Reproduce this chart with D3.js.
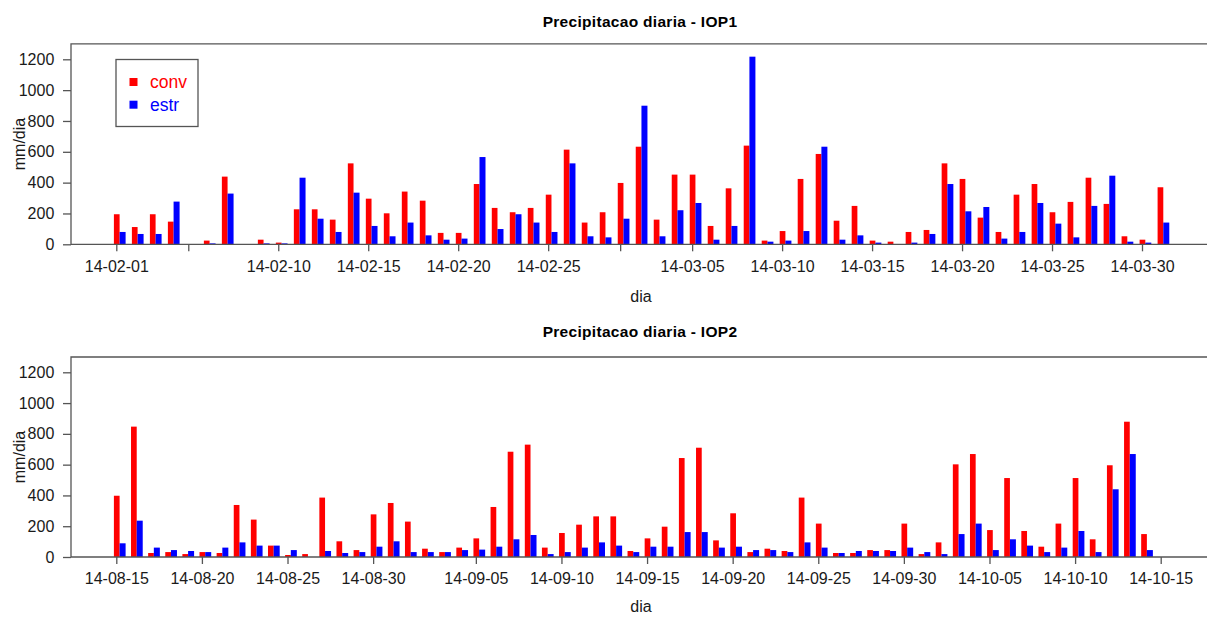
<!DOCTYPE html>
<html>
<head>
<meta charset="utf-8">
<script src="https://cdn.jsdelivr.net/npm/d3@7"></script>
<style>
  html, body { margin: 0; padding: 0; background: #fff; }
  svg { display: block; font-family: "Liberation Sans", Arial, Helvetica, sans-serif; }
</style>
</head>
<body>
<svg id="chart" width="1207" height="617"></svg>
<script>
// ---------- DATA ----------
const seriesNames = ["conv", "estr"];
const seriesColors = ["#ff0000", "#0000ff"];

const dias1 = ["02-01","02-02","02-03","02-04","02-05","02-06","02-07","02-08","02-09","02-10",
  "02-11","02-12","02-13","02-14","02-15","02-16","02-17","02-18","02-19","02-20",
  "02-21","02-22","02-23","02-24","02-25","02-26","02-27","02-28",
  "03-01","03-02","03-03","03-04","03-05","03-06","03-07","03-08","03-09","03-10",
  "03-11","03-12","03-13","03-14","03-15","03-16","03-17","03-18","03-19","03-20",
  "03-21","03-22","03-23","03-24","03-25","03-26","03-27","03-28","03-29","03-30","03-31"];
const conv1 = [195,112,195,147,0,24,439,0,30,11,
  227,227,160,525,296,201,342,283,74,74,
  391,236,208,236,322,614,141,208,
  398,633,160,452,452,119,363,640,24,86,
  424,586,153,249,24,17,80,93,525,424,
  173,80,322,391,208,275,432,262,52,30,370];
const estr1 = [80,67,67,277,0,6,329,0,6,6,
  432,166,80,335,119,52,141,58,30,37,
  566,99,195,141,80,525,52,45,
  166,899,52,221,268,30,119,1217,17,24,
  86,633,30,58,11,0,11,67,391,214,
  242,37,80,268,134,45,249,445,17,11,141];

const dias2 = ["08-15","08-16","08-17","08-18","08-19","08-20","08-21","08-22","08-23","08-24",
  "08-25","08-26","08-27","08-28","08-29","08-30","08-31",
  "09-01","09-02","09-03","09-04","09-05","09-06","09-07","09-08","09-09","09-10",
  "09-11","09-12","09-13","09-14","09-15","09-16","09-17","09-18","09-19","09-20",
  "09-21","09-22","09-23","09-24","09-25","09-26","09-27","09-28","09-29","09-30",
  "10-01","10-02","10-03","10-04","10-05","10-06","10-07","10-08","10-09","10-10",
  "10-11","10-12","10-13","10-14"];
const conv2 = [398,847,26,32,19,32,26,338,243,74,
  13,19,386,102,45,277,351,
  230,54,32,61,121,325,684,730,61,156,
  210,264,264,39,121,197,643,710,108,284,
  32,54,39,386,217,26,26,45,45,217,
  19,95,602,669,175,513,169,67,217,513,
  115,596,879,149];
const estr2 = [89,236,61,45,39,32,61,95,74,74,
  45,0,39,26,32,67,102,
  32,32,32,45,48,67,115,143,19,32,
  61,95,74,32,67,67,162,162,61,67,
  45,45,32,95,61,26,39,39,39,61,
  32,19,149,217,45,115,74,32,61,169,
  32,440,669,45];

const ticks1 = ["02-01","02-05","02-10","02-15","02-20","02-25","03-01","03-05","03-10","03-15","03-20","03-25","03-30"];
const labels1 = ["14-02-01","","14-02-10","14-02-15","14-02-20","14-02-25","","14-03-05","14-03-10","14-03-15","14-03-20","14-03-25","14-03-30"];
const ticks2 = ["08-15","08-20","08-25","08-30","09-05","09-10","09-15","09-20","09-25","09-30","10-05","10-10","10-15"];
const labels2 = ["14-08-15","14-08-20","14-08-25","14-08-30","14-09-05","14-09-10","14-09-15","14-09-20","14-09-25","14-09-30","14-10-05","14-10-10","14-10-15"];
const yTicks = [0,200,400,600,800,1000,1200];

const titles = ["Precipitacao diaria - IOP1", "Precipitacao diaria - IOP2"];
const xLabel = "dia";
const yLabel = "mm/dia";

// ---------- DRAW ----------
const parse = d3.utcParse("%Y-%m-%d");
const P = s => parse("2014-" + s);
const svg = d3.select("#chart");
svg.append("rect").attr("width", 1207).attr("height", 617).attr("fill", "#fff");

const panels = [
  { dias: dias1, vals: [conv1, estr1], ticks: ticks1, labels: labels1, title: titles[0],
    titleY: 27, top: 43.8, zero: 244.3, y1200: 59.3,
    anchorDates: ["02-01", "03-30"], anchorPx: [116.3, 1142], legend: true, xLabY: 302 },
  { dias: dias2, vals: [conv2, estr2], ticks: ticks2, labels: labels2, title: titles[1],
    titleY: 337, top: 357, zero: 557, y1200: 372.3,
    anchorDates: ["08-15", "10-15"], anchorPx: [116.3, 1160.7], legend: false, xLabY: 612 }
];

const left = 71, right = 1209;
const textColor = "#1a1a1a";
const axisColor = "#555";

panels.forEach(p => {
  const g = svg.append("g");
  const x = d3.scaleUtc().domain(p.anchorDates.map(P)).range(p.anchorPx);
  const y = d3.scaleLinear().domain([0, 1200]).range([p.zero, p.y1200]);

  // bars
  const redOff = -2.4, redW = 5.7, blueOff = 3.3, blueW = 6.0;
  p.vals.forEach((arr, si) => {
    g.append("g").selectAll("rect")
      .data(arr.map((v, i) => ({ d: P(p.dias[i]), v })))
      .join("rect")
      .attr("x", d => x(d.d) + (si === 0 ? redOff : blueOff))
      .attr("width", si === 0 ? redW : blueW)
      .attr("y", d => y(d.v))
      .attr("height", d => p.zero - y(d.v))
      .attr("fill", seriesColors[si]);
  });

  // frame
  g.append("path")
    .attr("d", `M${right},${p.top}H${left}V${p.zero}H${right}`)
    .attr("fill", "none").attr("stroke", axisColor).attr("stroke-width", 1.3);

  // y axis
  const ya = g.append("g").attr("transform", `translate(${left},0)`)
    .call(d3.axisLeft(y).tickValues(yTicks).tickSize(8).tickPadding(8.7).tickFormat(d3.format("d")));
  ya.select(".domain").remove();
  ya.selectAll(".tick line").attr("stroke", axisColor).attr("stroke-width", 1.3);
  ya.selectAll(".tick text").attr("font-size", 16).attr("fill", textColor)
    .attr("font-family", "Liberation Sans, Arial, sans-serif");

  // x axis
  const xa = g.append("g").attr("transform", `translate(0,${p.zero})`)
    .call(d3.axisBottom(x).tickValues(p.ticks.map(P)).tickSize(7).tickPadding(9)
      .tickFormat((d, i) => p.labels[i]));
  xa.select(".domain").remove();
  xa.selectAll(".tick line").attr("stroke", axisColor).attr("stroke-width", 1.3);
  xa.selectAll(".tick text").attr("font-size", 16).attr("fill", textColor)
    .attr("font-family", "Liberation Sans, Arial, sans-serif");

  // title
  g.append("text").attr("x", 640).attr("y", p.titleY).attr("text-anchor", "middle")
    .attr("font-size", 15.5).attr("font-weight", "bold").attr("fill", "#000")
    .attr("letter-spacing", 0.3)
    .text(p.title);

  // axis labels
  g.append("text").attr("x", 641).attr("y", p.xLabY).attr("text-anchor", "middle")
    .attr("font-size", 16).attr("fill", textColor).text(xLabel);
  g.append("text")
    .attr("transform", `translate(24.5,${(p.top + p.zero) / 2}) rotate(-90)`)
    .attr("text-anchor", "middle").attr("font-size", 16).attr("fill", textColor).text(yLabel);

  // legend
  if (p.legend) {
    const lg = g.append("g");
    lg.append("rect").attr("x", 116).attr("y", 59.5).attr("width", 82).attr("height", 67)
      .attr("fill", "#fff").attr("stroke", axisColor).attr("stroke-width", 1.3);
    seriesNames.forEach((n, i) => {
      lg.append("rect").attr("x", 129.5).attr("y", 78 + i * 22.7).attr("width", 8).attr("height", 8)
        .attr("fill", seriesColors[i]);
      lg.append("text").attr("x", 150).attr("y", 88.3 + i * 22.7).attr("font-size", 17.5)
        .attr("fill", seriesColors[i]).text(n);
    });
  }
});
</script>
</body>
</html>
